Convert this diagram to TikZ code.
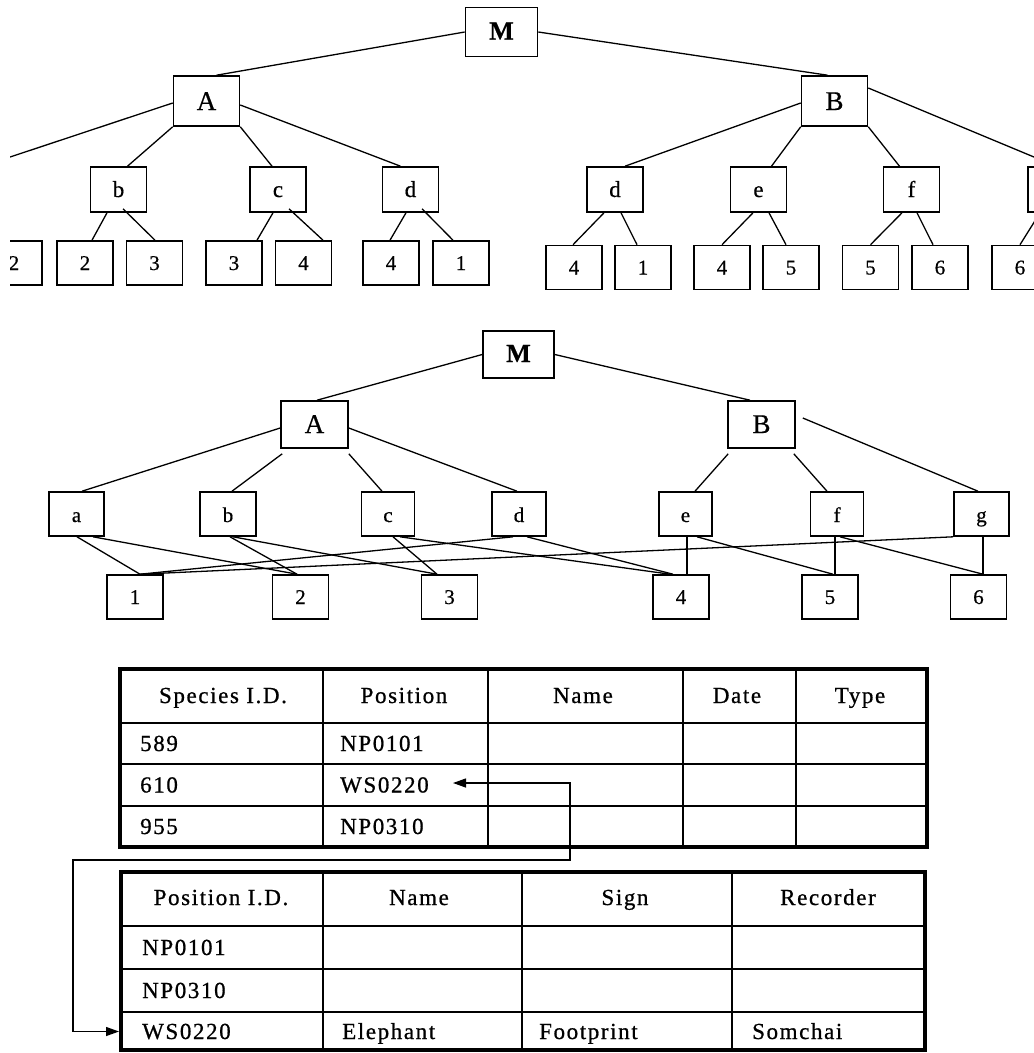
\documentclass[tikz,border=0pt]{standalone}
\usepackage{fontspec}
\setmainfont{Liberation Serif}[FakeBold=0.6]
\newfontfamily\tabfont[LetterSpace=7,FakeBold=0.8]{Liberation Serif}
\usetikzlibrary{arrows.meta,calc}

\begin{document}
\begin{tikzpicture}[x=1pt,y=-1pt,
  box/.style={draw, line width=1.6pt, inner sep=0pt, minimum width=56pt,
    minimum height=44pt, text height=15pt, text depth=0pt,
    font=\fontsize{23}{23}\selectfont},
  leafbox/.style={box, font=\fontsize{21}{21}\selectfont, text height=14pt},
  hubbox/.style={box, minimum width=66pt, minimum height=50pt,
    text height=18pt, font=\fontsize{27}{27}\selectfont},
  rootbox/.style={box, minimum width=72pt, minimum height=49pt,
    text height=15pt, font=\bfseries\fontsize{26}{26}\selectfont},
  edge/.style={line width=1.3pt},
  grid/.style={line width=1.6pt},
  frame/.style={line width=3.5pt},
  cell/.style={anchor=base west, inner sep=0pt, font=\tabfont\fontsize{23}{23}\selectfont},
  head/.style={anchor=base, inner sep=0pt, font=\tabfont\fontsize{23}{23}\selectfont},
  link/.style={line width=1.3pt, {Triangle[length=13pt,width=9pt]}-{Triangle[length=13pt,width=9pt]}}
]
\fill[white] (0,0) rectangle (1034,1053);
\useasboundingbox (0,0) rectangle (1034,1053);

% ---------- upper tree (duplicated leaves) ----------
\begin{scope}
\clip (10,0) rectangle (1034,300);
\node[rootbox] (tM) at (501.5,32) {M};
\node[hubbox] (tA) at (206.5,101) {A};
\node[hubbox] (tB) at (834.5,101) {B};
\node[box, minimum height=45pt] (tb)  at (118.5,189.5) {b};
\node[box, minimum height=45pt] (tc)  at (278,189.5)   {c};
\node[box, minimum height=45pt] (td)  at (410.5,189.5) {d};
\node[box, minimum height=45pt] (td2) at (615,189.5)   {d};
\node[box, minimum height=45pt] (te)  at (758.5,189.5) {e};
\node[box, minimum height=45pt] (tf)  at (911.5,189.5) {f};
\node[box, minimum height=45pt] (tg)  at (1056,189.5)  {};
\coordinate (tAout) at (-20,167);

\node[leafbox] (tl1) at (14,263)    {2};
\node[leafbox] (tl2) at (85,263)    {2};
\node[leafbox] (tl3) at (154.5,263) {3};
\node[leafbox] (tl4) at (234,263)   {3};
\node[leafbox] (tl5) at (303.5,263) {4};
\node[leafbox] (tl6) at (391,263)   {4};
\node[leafbox] (tl7) at (461,263)   {1};
\node[leafbox] (tr1) at (574,267.5) {4};
\node[leafbox] (tr2) at (643,267.5) {1};
\node[leafbox] (tr3) at (722,267.5) {4};
\node[leafbox] (tr4) at (791,267.5) {5};
\node[leafbox] (tr5) at (870.5,267.5) {5};
\node[leafbox] (tr6) at (940,267.5) {6};
\node[leafbox] (tr7) at (1020,267.5) {6};

\draw[edge] (tM.west) -- ([shift={(10,0)}]tA.north);
\draw[edge] (tM.east) -- ([shift={(-7,0)}]tB.north);
\draw[edge] ([shift={(0,2)}]tA.west) -- (tAout);
\draw[edge] (tA.south west) -- ([shift={(9,0)}]tb.north);
\draw[edge] (tA.south east) -- ([shift={(-6,0)}]tc.north);
\draw[edge] ([shift={(0,4)}]tA.east) -- ([shift={(-10,0)}]td.north);
\draw[edge] ([shift={(0,2)}]tB.west) -- ([shift={(10,0)}]td2.north);
\draw[edge] (tB.south west) -- ([shift={(13,0)}]te.north);
\draw[edge] (tB.south east) -- ([shift={(-12,0)}]tf.north);
\draw[edge] ([shift={(0,-13)}]tB.east) -- (tg.north);

\draw[edge] ([shift={(-11.5,0)}]tb.south) -- ([shift={(7,0)}]tl2.north);
\draw[edge] ([shift={(4.5,-4)}]tb.south) -- ([shift={(0.5,0)}]tl3.north);
\draw[edge] ([shift={(-5,0)}]tc.south) -- ([shift={(23,0)}]tl4.north);
\draw[edge] ([shift={(11,-4)}]tc.south) -- ([shift={(19.5,0)}]tl5.north);
\draw[edge] ([shift={(-4.5,0)}]td.south) -- ([shift={(-1,0)}]tl6.north);
\draw[edge] ([shift={(11.5,-4)}]td.south) -- ([shift={(-8,0)}]tl7.north);
\draw[edge] ([shift={(-11,0)}]td2.south) -- ([shift={(-1,0)}]tr1.north);
\draw[edge] ([shift={(6,0)}]td2.south) -- ([shift={(-6,0)}]tr2.north);
\draw[edge] ([shift={(-5.5,0)}]te.south) -- (tr3.north);
\draw[edge] ([shift={(10.5,0)}]te.south) -- ([shift={(-5,0)}]tr4.north);
\draw[edge] ([shift={(-9.5,0)}]tf.south) -- (tr5.north);
\draw[edge] ([shift={(5.5,0)}]tf.south) -- ([shift={(-7,0)}]tr6.north);
\draw[edge] ([shift={(-16,0)}]tg.south) -- (tr7.north);
\end{scope}

% ---------- lower tree (shared leaves) ----------
\begin{scope}[box/.append style={font=\fontsize{21}{21}\selectfont, text height=16pt}]
\node[rootbox, minimum width=71pt, minimum height=47pt] (mM) at (518.5,354.5) {M};
\node[hubbox, minimum width=67pt, minimum height=47pt, text height=17pt] (mA) at (314.5,424.5) {A};
\node[hubbox, minimum width=67pt, minimum height=47pt, text height=17pt] (mB) at (761.5,424.5) {B};
\node[box, minimum width=55pt] (ma) at (76.5,514)  {a};
\node[box, minimum width=56pt] (mb) at (228,514)   {b};
\node[box, minimum width=53pt] (mc) at (388,514)   {c};
\node[box, minimum width=54pt] (md) at (519,514)   {d};
\node[box, minimum width=53pt] (me) at (685.5,514) {e};
\node[box, minimum width=53pt] (mf) at (837,514)   {f};
\node[box, minimum width=55pt] (mg) at (981.5,514) {g};
\node[leafbox] (m1) at (135,597)   {1};
\node[leafbox] (m2) at (300.5,597) {2};
\node[leafbox] (m3) at (449.5,597) {3};
\node[leafbox] (m4) at (681,597)   {4};
\node[leafbox] (m5) at (830,597)   {5};
\node[leafbox] (m6) at (978.5,597) {6};

\draw[edge] (mM.west) -- ([shift={(2.5,0)}]mA.north);
\draw[edge] (mM.east) -- ([shift={(-11.5,0)}]mB.north);
\draw[edge] ([shift={(0,3.5)}]mA.west) -- ([shift={(5.5,0)}]ma.north);
\draw[edge] ([shift={(2,5)}]mA.south west) -- ([shift={(4,0)}]mb.north);
\draw[edge] ([shift={(0,5)}]mA.south east) -- ([shift={(-6,0)}]mc.north);
\draw[edge] ([shift={(0,3.5)}]mA.east) -- ([shift={(-2,0)}]md.north);
\draw[edge] ([shift={(1,5)}]mB.south west) -- ([shift={(9.5,0)}]me.north);
\draw[edge] ([shift={(-2,5)}]mB.south east) -- ([shift={(-10,0)}]mf.north);
\draw[edge] ([shift={(7,-6.5)}]mB.east) -- ([shift={(-3.5,0)}]mg.north);

\draw[edge] ([shift={(0.5,0)}]ma.south) -- ([shift={(5,0)}]m1.north);
\draw[edge] ([shift={(16.5,0)}]ma.south) -- ([shift={(-3.5,0)}]m2.north);
\draw[edge] ([shift={(2,0)}]mb.south) -- ([shift={(-3.5,0)}]m2.north);
\draw[edge] ([shift={(5,0)}]mb.south) -- ([shift={(-12.5,0)}]m3.north);
\draw[edge] ([shift={(5,0)}]mc.south) -- ([shift={(-12.5,0)}]m3.north);
\draw[edge] ([shift={(12,0)}]mc.south) -- ([shift={(-11,0)}]m4.north);
\draw[edge] ([shift={(8,0)}]md.south) -- ([shift={(-8,0)}]m4.north);
\draw[edge] ([shift={(-6,0)}]md.south) -- ([shift={(5,0)}]m1.north);
\draw[edge] ([shift={(1.5,0)}]me.south) -- ([shift={(1.5,0)}]me.south |- m4.north);
\draw[edge] ([shift={(11.5,0)}]me.south) -- ([shift={(3,0)}]m5.north);
\draw[edge] ([shift={(-2,0)}]mf.south) -- ([shift={(-2,0)}]mf.south |- m5.north);
\draw[edge] ([shift={(3,0)}]mf.south) -- ([shift={(4.5,0)}]m6.north);
\draw[edge] ([shift={(1.5,0)}]mg.south) -- ([shift={(1.5,0)}]mg.south |- m6.north);
\draw[edge] (mg.south west) -- ([shift={(5,0)}]m1.north);
\end{scope}

% ---------- species table ----------
\draw[grid] (323,669) -- (323,847) (488,669) -- (488,847)
            (683,669) -- (683,847) (796,669) -- (796,847);
\draw[grid] (120,723) -- (927,723) (120,764) -- (927,764) (120,806) -- (927,806);
\draw[frame] (120,669) rectangle (927,847);
\node[head] (s0a) at (223,703) {Species I.D.};
\node[head] (s0b) at (404,703) {Position};
\node[head] (s0c) at (583,703) {Name};
\node[head] (s0d) at (737,703) {Date};
\node[head] (s0e) at (860,703) {Type};
\node[cell] (s1a) at (140,751)   {589};
\node[cell] (s1b) at (340,751)   {NP0101};
\node[cell] (s2a) at (140,792.5) {610};
\node[cell] (s2b) at (340,792.5) {WS0220};
\node[cell] (s3a) at (140,834)   {955};
\node[cell] (s3b) at (340,834)   {NP0310};

% ---------- position table ----------
\draw[grid] (323,872) -- (323,1050) (522,872) -- (522,1050) (732,872) -- (732,1050);
\draw[grid] (121,926) -- (925,926) (121,969) -- (925,969) (121,1012) -- (925,1012);
\draw[frame] (121,872) rectangle (925,1050);
\node[head] (p0a) at (221,905) {Position I.D.};
\node[head] (p0b) at (419,905) {Name};
\node[head] (p0c) at (625,905) {Sign};
\node[head] (p0d) at (828,905) {Recorder};
\node[cell] (p1a) at (142,955)  {NP0101};
\node[cell] (p2a) at (142,998)  {NP0310};
\node[cell] (p3a) at (142,1039) {WS0220};
\node[cell] (p3b) at (342,1039) {Elephant};
\node[cell] (p3c) at (539,1039) {Footprint};
\node[cell] (p3d) at (752,1039) {Somchai};

% ---------- key link between the two tables ----------
\coordinate (lnkA) at (453,783);
\coordinate (lnkB) at (119,1031.5);
\draw[link] (lnkA) -- (570,783) -- (570,860) -- (73,860) |- (lnkB);
\end{tikzpicture}
\end{document}
